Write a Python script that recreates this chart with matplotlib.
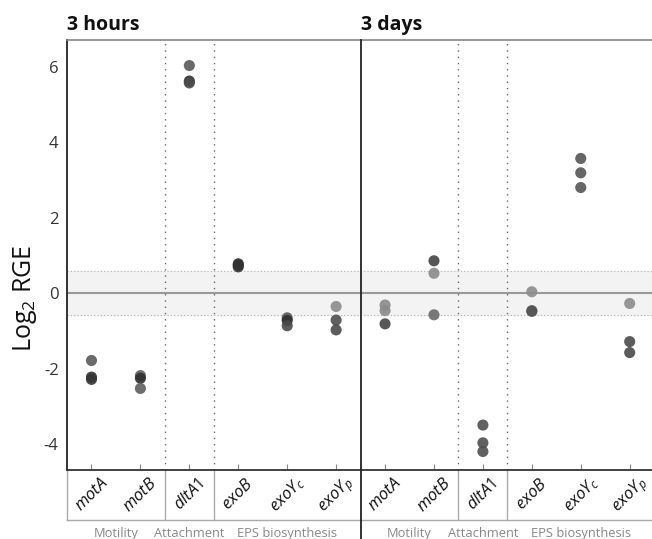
"""Log2 RGE of motility / attachment / EPS genes at 3 hours and 3 days."""

import matplotlib

matplotlib.use("Agg")

import numpy as np
from matplotlib import pyplot as plt
from matplotlib import transforms

plt.rcParams["font.family"] = ["Open Sans", "DejaVu Sans"]
plt.rcParams["mathtext.fontset"] = "custom"
plt.rcParams["mathtext.rm"] = "Open Sans"
plt.rcParams["mathtext.it"] = "Open Sans:italic"

# gene labels (mathtext so the subscripts come out right)
genes = [r"$motA$", r"$motB$", r"$dltA1$", r"$exoB$", r"$exoY_c$", r"$exoY_p$"]
groups = ["Motility", "Attachment", "EPS biosynthesis"]
group_centers = [0.5, 2.0, 4.0]
panels = ["3 hours", "3 days"]

# three replicates per gene
hours_values = [
    [-1.78, -2.22, -2.28],
    [-2.18, -2.25, -2.52],
    [6.03, 5.62, 5.57],
    [0.78, 0.74, 0.70],
    [-0.65, -0.72, -0.86],
    [-0.35, -0.71, -0.97],
]
days_values = [
    [-0.31, -0.46, -0.81],
    [0.86, 0.53, -0.57],
    [-3.49, -3.96, -4.19],
    [0.04, -0.46, -0.48],
    [3.57, 3.19, 2.80],
    [-0.27, -1.28, -1.57],
]

# replicate shades (same order as the values above)
hours_shades = [
    ["#5a5a5a", "#2e2e2e", "#353535"],
    ["#5c5c5c", "#2e2e2e", "#5e5e5e"],
    ["#5a5a5a", "#2e2e2e", "#4a4a4a"],
    ["#2a2a2a", "#2e2e2e", "#333333"],
    ["#5a5a5a", "#2e2e2e", "#4a4a4a"],
    ["#8c8c8c", "#4e4e4e", "#4a4a4a"],
]
days_shades = [
    ["#8a8a8a", "#8a8a8a", "#444444"],
    ["#444444", "#8a8a8a", "#6a6a6a"],
    ["#505050", "#505050", "#505050"],
    ["#8c8c8c", "#555555", "#555555"],
    ["#555555", "#555555", "#555555"],
    ["#8c8c8c", "#4a4a4a", "#4a4a4a"],
]

band = 0.585

fig = plt.figure(figsize=(6.52, 5.39), dpi=100)
ax = fig.add_axes([0.1028, 0.128, 0.9005, 0.798])

n = len(genes)
for p, (vals, shades) in enumerate([(hours_values, hours_shades), (days_values, days_shades)]):
    for i, (reps, cols) in enumerate(zip(vals, shades)):
        x = np.full(len(reps), p * n + i)
        ax.scatter(x, reps, s=64, c=cols, alpha=0.9, edgecolors="none", zorder=3)

ax.set_xlim(-0.5, 2 * n - 0.5)
ax.set_ylim(-4.68, 6.71)

# grey "no change" band with the zero line
ax.axhspan(-band, band, color="#f3f3f3", zorder=0)
for yb in (-band, band):
    ax.axhline(yb, color="#b0b0b0", lw=0.8, ls=(0, (1, 2)), zorder=1)
ax.axhline(0, color="#999999", lw=1.5, zorder=1)

# dotted category separators and solid panel divider
seps = [1.5, 2.5, n + 1.5, n + 2.5]
for xs in seps:
    ax.axvline(xs, color="#666666", lw=1.0, ls=(0, (1, 3.5)), zorder=1)

trans = transforms.blended_transform_factory(ax.transData, ax.transAxes)
ax.plot([n - 0.5, n - 0.5], [1.0, -0.25], color="#222222", lw=1.3,
        transform=trans, clip_on=False, zorder=4)

# label box under the axis
box_bottom = -0.116
for xs in seps:
    ax.plot([xs, xs], [0, box_bottom], color="#aaaaaa", lw=1.0,
            transform=trans, clip_on=False)
ax.plot([-0.5, -0.5], [0, box_bottom], color="#aaaaaa", lw=1.0,
        transform=trans, clip_on=False)
ax.plot([-0.5, 2 * n - 0.5], [box_bottom, box_bottom], color="#aaaaaa", lw=1.0,
        transform=trans, clip_on=False)

for p in range(2):
    for i, g in enumerate(genes):
        ax.text(p * n + i, -0.058, g, transform=trans, rotation=45,
                ha="center", va="center", fontsize=12, color="#111111")
    for gname, gc in zip(groups, group_centers):
        ax.text(p * n + gc, -0.148, gname, transform=trans, ha="center",
                va="center", fontsize=9.3, color="#888888")
    ax.text(p * n - 0.5, 1.012, panels[p], transform=trans, ha="left",
            va="bottom", fontsize=14, fontweight="bold", color="#111111")

ax.set_xticks(np.arange(2 * n))
ax.set_xticklabels([])
ax.tick_params(axis="x", direction="in", length=4, color="#888888", width=0.8)
ax.set_yticks([-4, -2, 0, 2, 4, 6])
ax.set_yticklabels(["-4", "-2", "0", "2", "4", "6"])
ax.tick_params(axis="y", length=0, pad=6, labelsize=12, labelcolor="#333333")

ax.spines["right"].set_visible(False)
ax.spines["left"].set_color("#222222")
ax.spines["left"].set_linewidth(1.3)
ax.spines["bottom"].set_color("#333333")
ax.spines["bottom"].set_linewidth(1.3)
ax.spines["top"].set_color("#888888")
ax.spines["top"].set_linewidth(1.2)

fig.text(0.038, 0.447, r"Log$_2$ RGE", rotation=90, ha="center", va="center",
         fontsize=18, color="#111111")

fig.savefig("out.png", dpi=100)
plt.close(fig)
